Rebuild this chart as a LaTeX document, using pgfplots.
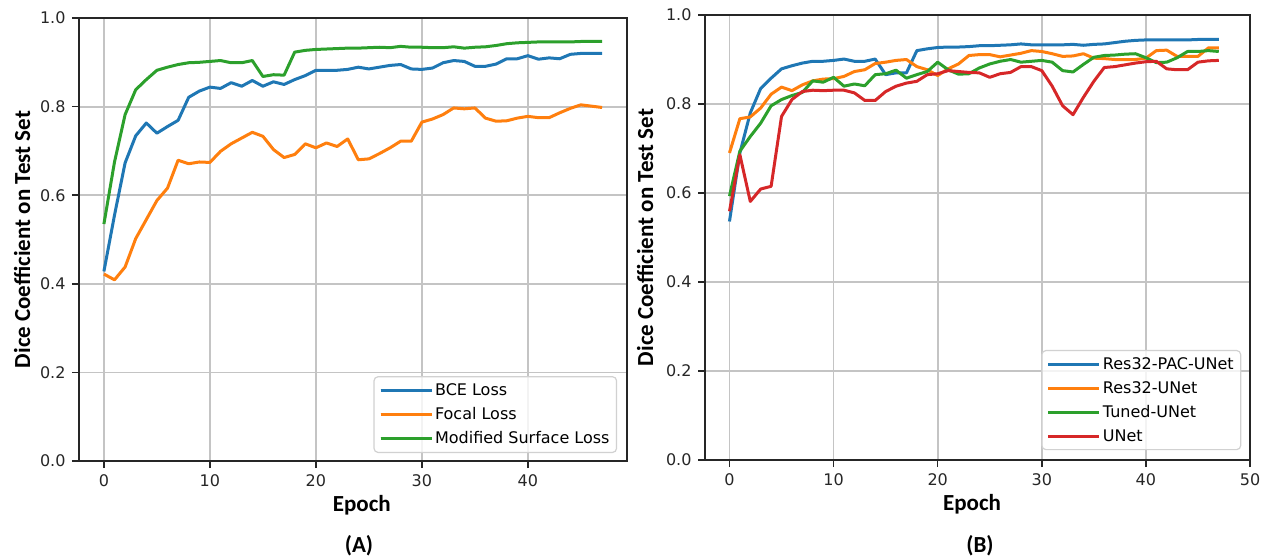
\documentclass[border=0pt]{standalone}
\usepackage{pgfplots}
\pgfplotsset{compat=1.18}
\usepackage{pgfplotstable}
\usepackage{fontspec}
\setmainfont{DejaVu Sans}
\newfontfamily\carlito{Carlito}
\definecolor{c1}{HTML}{1F77B4}
\definecolor{c2}{HTML}{FF7F0E}
\definecolor{c3}{HTML}{2CA02C}
\definecolor{c4}{HTML}{D62728}
\definecolor{gridc}{HTML}{C4C4C4}
\pgfplotstableread{
x bce focal msl
0 0.428 0.422 0.535
1 0.555 0.409 0.675
2 0.673 0.438 0.782
3 0.734 0.502 0.838
4 0.763 0.545 0.861
5 0.740 0.588 0.882
6 0.755 0.616 0.889
7 0.769 0.679 0.895
8 0.821 0.671 0.899
9 0.835 0.675 0.900
10 0.844 0.674 0.902
11 0.841 0.699 0.904
12 0.854 0.716 0.899
13 0.846 0.729 0.899
14 0.859 0.742 0.904
15 0.846 0.733 0.868
16 0.856 0.703 0.872
17 0.850 0.685 0.871
18 0.861 0.692 0.923
19 0.870 0.716 0.927
20 0.882 0.707 0.929
21 0.882 0.718 0.930
22 0.882 0.710 0.931
23 0.884 0.727 0.932
24 0.889 0.680 0.932
25 0.885 0.682 0.933
26 0.889 0.694 0.934
27 0.893 0.707 0.933
28 0.895 0.722 0.936
29 0.885 0.722 0.934
30 0.884 0.765 0.934
31 0.887 0.772 0.933
32 0.899 0.782 0.933
33 0.904 0.797 0.935
34 0.902 0.795 0.932
35 0.891 0.797 0.934
36 0.891 0.774 0.935
37 0.896 0.767 0.938
38 0.908 0.768 0.942
39 0.908 0.774 0.944
40 0.915 0.778 0.945
41 0.907 0.775 0.946
42 0.910 0.775 0.946
43 0.908 0.786 0.946
44 0.918 0.796 0.946
45 0.920 0.804 0.947
46 0.920 0.801 0.947
47 0.920 0.798 0.947
}\tabA
\pgfplotstableread{
x pac res tuned unet
0 0.536 0.690 0.593 0.559
1 0.690 0.767 0.694 0.686
2 0.780 0.771 0.727 0.581
3 0.835 0.791 0.757 0.609
4 0.858 0.822 0.796 0.615
5 0.879 0.838 0.810 0.772
6 0.886 0.830 0.819 0.810
7 0.892 0.843 0.826 0.828
8 0.896 0.852 0.852 0.831
9 0.896 0.856 0.849 0.830
10 0.898 0.857 0.860 0.831
11 0.901 0.862 0.840 0.831
12 0.896 0.873 0.845 0.825
13 0.896 0.877 0.841 0.808
14 0.901 0.891 0.866 0.808
15 0.866 0.894 0.868 0.828
16 0.870 0.898 0.876 0.840
17 0.870 0.900 0.858 0.847
18 0.920 0.884 0.866 0.851
19 0.924 0.877 0.873 0.866
20 0.927 0.864 0.894 0.868
21 0.928 0.879 0.877 0.875
22 0.928 0.890 0.867 0.873
23 0.929 0.909 0.868 0.871
24 0.931 0.911 0.881 0.870
25 0.931 0.911 0.890 0.860
26 0.932 0.906 0.896 0.868
27 0.933 0.910 0.900 0.871
28 0.935 0.914 0.894 0.884
29 0.933 0.920 0.896 0.884
30 0.933 0.918 0.898 0.875
31 0.933 0.913 0.894 0.840
32 0.933 0.907 0.875 0.796
33 0.934 0.908 0.872 0.776
34 0.932 0.913 0.889 0.815
35 0.934 0.903 0.905 0.851
36 0.935 0.902 0.909 0.882
37 0.938 0.900 0.910 0.884
38 0.941 0.900 0.912 0.888
39 0.943 0.900 0.913 0.892
40 0.944 0.903 0.904 0.895
41 0.944 0.920 0.893 0.896
42 0.944 0.921 0.894 0.879
43 0.944 0.907 0.904 0.877
44 0.944 0.907 0.918 0.877
45 0.945 0.907 0.918 0.894
46 0.945 0.926 0.920 0.897
47 0.945 0.926 0.918 0.898
}\tabB
\pgfplotsset{
  myax/.style={
    scale only axis,
    anchor=south west,
    axis line style={black!85, line width=1.5pt},
    ymin=0, ymax=1,
    ytick={0,0.2,0.4,0.6,0.8,1.0},
    yticklabel style={/pgf/number format/fixed, /pgf/number format/fixed zerofill, /pgf/number format/precision=1},
    /pgf/number format/assume math mode=true,
    tick align=outside,
    major tick length=7pt,
    tick style={black!85, line width=1.5pt},
    xtick pos=bottom, ytick pos=left,
    grid=major,
    grid style={gridc, line width=1.8pt},
    ticklabel style={font=\fontsize{16}{16}\selectfont, text=black!85},
    xticklabel shift=3pt,
    yticklabel shift=3pt,
    label style={font=\carlito\bfseries\fontsize{23}{23}\selectfont},
    legend cell align=left,
    legend image code/.code={\draw[#1, line width=3pt] (0pt,0pt) -- (35pt,0pt); \path (0pt,0pt) -- (51pt,0pt);},
    legend style={font=\fontsize{16}{16}\selectfont, draw=black!18, line width=1.2pt, rounded corners=4pt, fill=white, fill opacity=0.8, text opacity=1, draw opacity=1, inner xsep=5pt, inner ysep=5pt, row sep=6.5pt, anchor=south east},
    every axis plot/.append style={line width=3pt, line join=round},
  }
}
\begin{document}
\begin{tikzpicture}
\useasboundingbox (0pt,0pt) rectangle (1272pt,-558pt);
\begin{axis}[myax, at={(79pt,-461pt)}, width=548pt, height=443pt,
  xmin=-2.35, xmax=49.35, xtick={0,10,20,30,40},
  xlabel={Epoch}, ylabel={Dice Coefficient on Test Set},
  xlabel style={at={(axis description cs:0.516,-0.10)}, anchor=center},
  ylabel style={at={(axis description cs:-0.104,0.5)}, anchor=center},
  legend style={at={(axis description cs:0.982,0.018)}}]
\addplot[c1] table[x=x,y=bce]{\tabA};
\addlegendentry{BCE Loss}
\addplot[c2] table[x=x,y=focal]{\tabA};
\addlegendentry{Focal Loss}
\addplot[c3] table[x=x,y=msl]{\tabA};
\addlegendentry{Modified Surface Loss}
\end{axis}
\begin{axis}[myax, at={(705pt,-460pt)}, width=545pt, height=445pt,
  xmin=-2.35, xmax=50, xtick={0,10,20,30,40,50},
  xlabel={Epoch}, ylabel={Dice Coefficient on Test Set},
  xlabel style={at={(axis description cs:0.49,-0.10)}, anchor=center},
  ylabel style={at={(axis description cs:-0.11,0.5)}, anchor=center},
  legend style={at={(axis description cs:0.984,0.022)}}]
\addplot[c1] table[x=x,y=pac]{\tabB};
\addlegendentry{Res32-PAC-UNet}
\addplot[c2] table[x=x,y=res]{\tabB};
\addlegendentry{Res32-UNet}
\addplot[c3] table[x=x,y=tuned]{\tabB};
\addlegendentry{Tuned-UNet}
\addplot[c4] table[x=x,y=unet]{\tabB};
\addlegendentry{UNet}
\end{axis}
\node[font=\carlito\bfseries\fontsize{23}{23}\selectfont] at (359pt,-546pt) {(A)};
\node[font=\carlito\bfseries\fontsize{23}{23}\selectfont] at (980pt,-546pt) {(B)};
\end{tikzpicture}
\end{document}
